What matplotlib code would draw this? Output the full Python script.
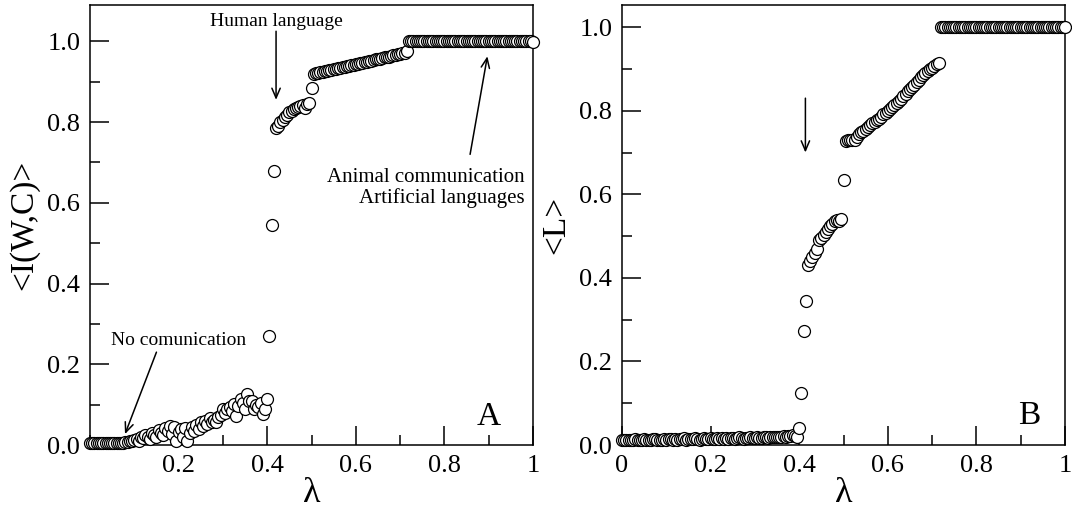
import matplotlib
matplotlib.use('Agg')
import matplotlib.pyplot as plt
import numpy as np
from matplotlib.ticker import MultipleLocator, FixedLocator

plt.rcParams['font.family'] = ['Liberation Serif', 'DejaVu Serif']

OUT_PATH = 'out.png'

# lambda grid, step 0.005
LAMBDA = np.linspace(0, 1, 201)

# <I(W,C)>, one row per 0.05 of lambda
INFO = [
    0.005, 0.004, 0.005, 0.005, 0.004, 0.005, 0.006, 0.005, 0.004, 0.005,
    0.005, 0.006, 0.005, 0.004, 0.006, 0.005, 0.007, 0.008, 0.010, 0.009,
    0.012, 0.015, 0.011, 0.020, 0.017, 0.024, 0.021, 0.016, 0.030, 0.026,
    0.020, 0.038, 0.030, 0.025, 0.042, 0.034, 0.047, 0.028, 0.045, 0.010,
    0.033, 0.040, 0.020, 0.043, 0.010, 0.030, 0.045, 0.035, 0.050, 0.040,
    0.057, 0.048, 0.060, 0.052, 0.066, 0.058, 0.062, 0.057, 0.070, 0.075,
    0.089, 0.080, 0.090, 0.095, 0.085, 0.101, 0.072, 0.096, 0.114, 0.105,
    0.089, 0.126, 0.110, 0.109, 0.089, 0.100, 0.095, 0.105, 0.076, 0.090,
    0.114, 0.270, 0.545, 0.680, 0.785, 0.790, 0.800, 0.805, 0.812, 0.818,
    0.825, 0.828, 0.832, 0.835, 0.838, 0.840, 0.843, 0.836, 0.845, 0.848,
    0.885, 0.920, 0.921, 0.922, 0.923, 0.924, 0.926, 0.927, 0.928, 0.930,
    0.931, 0.932, 0.934, 0.935, 0.936, 0.937, 0.939, 0.940, 0.941, 0.942,
    0.944, 0.945, 0.946, 0.947, 0.949, 0.950, 0.951, 0.952, 0.954, 0.955,
    0.956, 0.957, 0.959, 0.960, 0.961, 0.962, 0.964, 0.965, 0.966, 0.968,
    0.969, 0.970, 0.972, 0.975, 1.000, 1.000, 1.000, 1.000, 1.000, 1.000,
    1.000, 1.000, 1.000, 1.000, 1.000, 1.000, 1.000, 1.000, 1.000, 1.000,
    1.000, 1.000, 1.000, 1.000, 1.000, 1.000, 1.000, 1.000, 1.000, 1.000,
    1.000, 1.000, 1.000, 1.000, 1.000, 1.000, 1.000, 1.000, 1.000, 1.000,
    1.000, 1.000, 1.000, 1.000, 1.000, 1.000, 1.000, 1.000, 1.000, 1.000,
    1.000, 1.000, 1.000, 1.000, 1.000, 1.000, 1.000, 1.000, 1.000, 1.000,
    0.998,
]

# <L>
LINKS = [
    0.012, 0.013, 0.012, 0.012, 0.013, 0.012, 0.014, 0.013, 0.012, 0.013,
    0.014, 0.013, 0.012, 0.013, 0.014, 0.015, 0.013, 0.012, 0.013, 0.014,
    0.013, 0.014, 0.015, 0.013, 0.014, 0.013, 0.015, 0.014, 0.016, 0.013,
    0.014, 0.015, 0.014, 0.016, 0.015, 0.013, 0.014, 0.016, 0.015, 0.014,
    0.016, 0.015, 0.014, 0.016, 0.015, 0.017, 0.015, 0.016, 0.014, 0.016,
    0.017, 0.015, 0.016, 0.018, 0.016, 0.015, 0.017, 0.016, 0.018, 0.017,
    0.016, 0.018, 0.017, 0.016, 0.018, 0.019, 0.017, 0.018, 0.020, 0.018,
    0.019, 0.020, 0.018, 0.021, 0.020, 0.022, 0.021, 0.023, 0.022, 0.020,
    0.040, 0.125, 0.272, 0.345, 0.430, 0.440, 0.450, 0.460, 0.468, 0.490,
    0.495, 0.503, 0.510, 0.518, 0.525, 0.530, 0.535, 0.538, 0.537, 0.541,
    0.635, 0.728, 0.730, 0.731, 0.729, 0.730, 0.738, 0.745, 0.749, 0.752,
    0.757, 0.762, 0.765, 0.770, 0.774, 0.777, 0.781, 0.786, 0.791, 0.794,
    0.800, 0.805, 0.809, 0.813, 0.818, 0.824, 0.829, 0.835, 0.840, 0.846,
    0.851, 0.857, 0.862, 0.868, 0.874, 0.880, 0.886, 0.891, 0.895, 0.899,
    0.903, 0.907, 0.911, 0.915, 1.000, 1.000, 1.000, 1.000, 1.000, 1.000,
    1.000, 1.000, 1.000, 1.000, 1.000, 1.000, 1.000, 1.000, 1.000, 1.000,
    1.000, 1.000, 1.000, 1.000, 1.000, 1.000, 1.000, 1.000, 1.000, 1.000,
    1.000, 1.000, 1.000, 1.000, 1.000, 1.000, 1.000, 1.000, 1.000, 1.000,
    1.000, 1.000, 1.000, 1.000, 1.000, 1.000, 1.000, 1.000, 1.000, 1.000,
    1.000, 1.000, 1.000, 1.000, 1.000, 1.000, 1.000, 1.000, 1.000, 1.000,
    1.000,
]

LEFT_XTICKS = [0.2, 0.4, 0.6, 0.8, 1.0]
LEFT_XLABELS = ['0.2', '0.4', '0.6', '0.8', '1']
RIGHT_XTICKS = [0.0, 0.2, 0.4, 0.6, 0.8, 1.0]
RIGHT_XLABELS = ['0', '0.2', '0.4', '0.6', '0.8', '1']
YTICKS = [0.0, 0.2, 0.4, 0.6, 0.8, 1.0]
YLABELS = ['0.0', '0.2', '0.4', '0.6', '0.8', '1.0']

ARROW = dict(arrowstyle='->,head_length=0.7,head_width=0.3', lw=1.1, color='black',
             shrinkA=0, shrinkB=0)


def style_axes(ax, xticks, xlabels, ymax):
    ax.set_xlim(0, 1)
    ax.set_ylim(0, ymax)
    ax.xaxis.set_major_locator(FixedLocator(xticks))
    ax.set_xticklabels(xlabels)
    ax.xaxis.set_minor_locator(MultipleLocator(0.1))
    ax.set_yticks(YTICKS)
    ax.set_yticklabels(YLABELS)
    ax.yaxis.set_minor_locator(MultipleLocator(0.1))
    ax.tick_params(which='both', direction='in', top=False, right=False,
                   labelsize=19, width=1.1, pad=7)
    ax.tick_params(which='major', length=13.5)
    ax.tick_params(which='minor', length=7)
    for s in ax.spines.values():
        s.set_linewidth(1.1)
    ax.set_xlabel('\u03bb', fontsize=26, labelpad=0)


def scatter(ax, x, y):
    ax.plot(x, y, 'o', ms=8.6, mfc='white', mec='black', mew=0.9, clip_on=False, zorder=3)


fig = plt.figure(figsize=(10.72, 5.14), dpi=100)

# left panel
ax1 = fig.add_axes([90 / 1072, 69 / 514, 443 / 1072, 440 / 514])
scatter(ax1, LAMBDA, INFO)
style_axes(ax1, LEFT_XTICKS, LEFT_XLABELS, 1.09)
ax1.set_ylabel('<I(W,C)>', fontsize=24, labelpad=6)
ax1.text(0.42, 1.05, 'Human language', ha='center', va='center', fontsize=14)
ax1.annotate('', xy=(0.42, 0.855), xytext=(0.42, 1.025), arrowprops=ARROW)
ax1.text(0.2, 0.26, 'No comunication', ha='center', va='center', fontsize=14)
ax1.annotate('', xy=(0.079, 0.027), xytext=(0.15, 0.23), arrowprops=ARROW)
ax1.text(0.982, 0.637, 'Animal communication\nArtificial languages', ha='right',
         va='center', fontsize=15, linespacing=1.05, multialignment='right')
ax1.annotate('', xy=(0.897, 0.963), xytext=(0.858, 0.72), arrowprops=ARROW)
ax1.text(0.9, 0.07, 'A', ha='center', va='center', fontsize=24)

# right panel
ax2 = fig.add_axes([622 / 1072, 69 / 514, 443 / 1072, 440 / 514])
scatter(ax2, LAMBDA, LINKS)
style_axes(ax2, RIGHT_XTICKS, RIGHT_XLABELS, 1.053)
ax2.set_ylabel('<L>', fontsize=24, labelpad=6)
ax2.annotate('', xy=(0.414, 0.70), xytext=(0.414, 0.83), arrowprops=ARROW)
ax2.text(0.92, 0.07, 'B', ha='center', va='center', fontsize=24)

plt.savefig(OUT_PATH, dpi=100)
